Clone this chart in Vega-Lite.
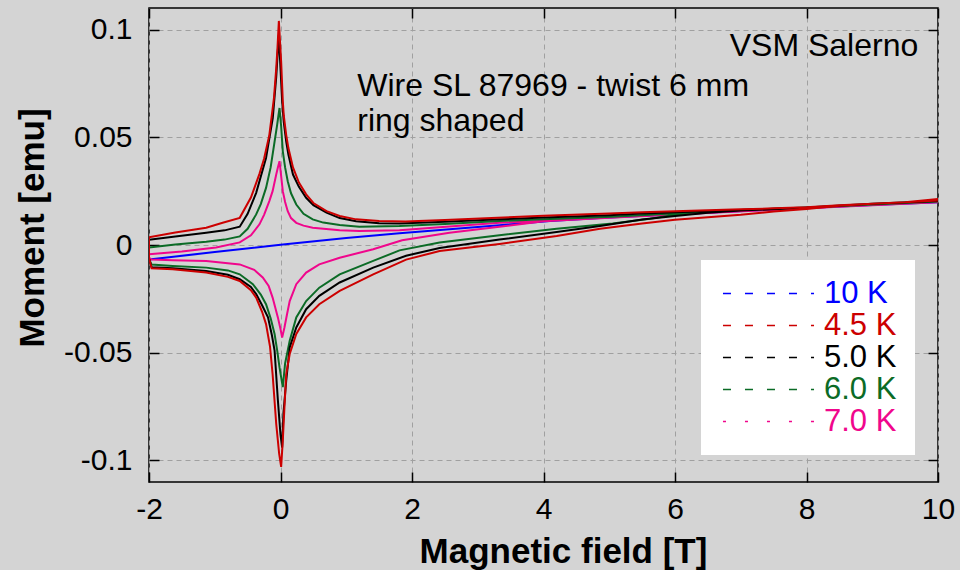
{
  "$schema": "https://vega.github.io/schema/vega-lite/v6.json",
  "width": 789,
  "height": 474,
  "autosize": "none",
  "padding": {"left": 149, "top": 8, "right": 22, "bottom": 88},
  "background": "#d4d4d4",
  "config": {
    "font": "Liberation Sans",
    "view": {"stroke": "#000000", "strokeWidth": 1.5},
    "axis": {
      "labelFont": "Liberation Sans",
      "labelFontSize": 30,
      "labelColor": "#000000",
      "labelFlush": false,
      "labelOverlap": false,
      "titleFont": "Liberation Sans",
      "titleFontSize": 35,
      "titleFontWeight": "bold",
      "titleColor": "#000000",
      "domain": false,
      "tickColor": "#000000",
      "tickWidth": 1.5,
      "tickSize": -10,
      "gridColor": "#a0a0a0",
      "gridDash": [5, 4],
      "gridWidth": 1
    }
  },
  "datasets": {
    "curves": [
      {"T":"10 K","i":0,"H":-2,"m":-0.0067},
      {"T":"10 K","i":1,"H":-1,"m":-0.0033},
      {"T":"10 K","i":2,"H":0,"m":0.0001},
      {"T":"10 K","i":3,"H":1,"m":0.0032},
      {"T":"10 K","i":4,"H":1.81,"m":0.0054},
      {"T":"10 K","i":5,"H":2.57,"m":0.0073},
      {"T":"10 K","i":6,"H":3.33,"m":0.0092},
      {"T":"10 K","i":7,"H":4.1,"m":0.0111},
      {"T":"10 K","i":8,"H":4.86,"m":0.0125},
      {"T":"10 K","i":9,"H":6,"m":0.0143},
      {"T":"10 K","i":10,"H":7.5,"m":0.0165},
      {"T":"10 K","i":11,"H":9,"m":0.0186},
      {"T":"10 K","i":12,"H":10,"m":0.0198},

      {"T":"7.0 K","i":0,"H":10,"m":0.0199},
      {"T":"7.0 K","i":1,"H":8,"m":0.0170},
      {"T":"7.0 K","i":2,"H":6,"m":0.0143},
      {"T":"7.0 K","i":3,"H":5,"m":0.0128},
      {"T":"7.0 K","i":4,"H":4,"m":0.0113},
      {"T":"7.0 K","i":5,"H":3.33,"m":0.0103},
      {"T":"7.0 K","i":6,"H":2.57,"m":0.0086},
      {"T":"7.0 K","i":7,"H":1.81,"m":0.0069},
      {"T":"7.0 K","i":8,"H":1.2,"m":0.0065},
      {"T":"7.0 K","i":9,"H":0.9,"m":0.0068},
      {"T":"7.0 K","i":10,"H":0.49,"m":0.0080},
      {"T":"7.0 K","i":11,"H":0.35,"m":0.0090},
      {"T":"7.0 K","i":12,"H":0.24,"m":0.0103},
      {"T":"7.0 K","i":13,"H":0.16,"m":0.0125},
      {"T":"7.0 K","i":14,"H":0.11,"m":0.0157},
      {"T":"7.0 K","i":15,"H":0.07,"m":0.0200},
      {"T":"7.0 K","i":16,"H":0.035,"m":0.0250},
      {"T":"7.0 K","i":17,"H":0.01,"m":0.0320},
      {"T":"7.0 K","i":18,"H":-0.015,"m":0.0389},
      {"T":"7.0 K","i":19,"H":-0.04,"m":0.0360},
      {"T":"7.0 K","i":20,"H":-0.065,"m":0.0327},
      {"T":"7.0 K","i":21,"H":-0.12,"m":0.0250},
      {"T":"7.0 K","i":22,"H":-0.17,"m":0.0204},
      {"T":"7.0 K","i":23,"H":-0.25,"m":0.0140},
      {"T":"7.0 K","i":24,"H":-0.32,"m":0.0096},
      {"T":"7.0 K","i":25,"H":-0.45,"m":0.0045},
      {"T":"7.0 K","i":26,"H":-0.62,"m":0.0012},
      {"T":"7.0 K","i":27,"H":-0.98,"m":-0.0012},
      {"T":"7.0 K","i":28,"H":-1.5,"m":-0.0030},
      {"T":"7.0 K","i":29,"H":-2,"m":-0.0043},
      {"T":"7.0 K","i":30,"H":-2,"m":-0.0058},
      {"T":"7.0 K","i":31,"H":-1.96,"m":-0.0067},
      {"T":"7.0 K","i":32,"H":-1.64,"m":-0.0071},
      {"T":"7.0 K","i":33,"H":-1.13,"m":-0.0074},
      {"T":"7.0 K","i":34,"H":-0.62,"m":-0.0090},
      {"T":"7.0 K","i":35,"H":-0.4,"m":-0.0115},
      {"T":"7.0 K","i":36,"H":-0.27,"m":-0.0151},
      {"T":"7.0 K","i":37,"H":-0.18,"m":-0.0190},
      {"T":"7.0 K","i":38,"H":-0.12,"m":-0.0244},
      {"T":"7.0 K","i":39,"H":-0.04,"m":-0.0336},
      {"T":"7.0 K","i":40,"H":0,"m":-0.0390},
      {"T":"7.0 K","i":41,"H":0.025,"m":-0.0430},
      {"T":"7.0 K","i":42,"H":0.06,"m":-0.0383},
      {"T":"7.0 K","i":43,"H":0.1,"m":-0.0320},
      {"T":"7.0 K","i":44,"H":0.14,"m":-0.0260},
      {"T":"7.0 K","i":45,"H":0.24,"m":-0.0182},
      {"T":"7.0 K","i":46,"H":0.39,"m":-0.0128},
      {"T":"7.0 K","i":47,"H":0.59,"m":-0.0090},
      {"T":"7.0 K","i":48,"H":0.9,"m":-0.0059},
      {"T":"7.0 K","i":49,"H":1.41,"m":-0.0020},
      {"T":"7.0 K","i":50,"H":1.85,"m":0.0022},
      {"T":"7.0 K","i":51,"H":2.57,"m":0.0057},
      {"T":"7.0 K","i":52,"H":3.33,"m":0.0085},
      {"T":"7.0 K","i":53,"H":4,"m":0.0110},
      {"T":"7.0 K","i":54,"H":5,"m":0.0127},
      {"T":"7.0 K","i":55,"H":6,"m":0.0142},
      {"T":"7.0 K","i":56,"H":8,"m":0.0170},
      {"T":"7.0 K","i":57,"H":10,"m":0.0198},

      {"T":"6.0 K","i":0,"H":10,"m":0.0202},
      {"T":"6.0 K","i":1,"H":9,"m":0.0188},
      {"T":"6.0 K","i":2,"H":8,"m":0.0173},
      {"T":"6.0 K","i":3,"H":7,"m":0.0163},
      {"T":"6.0 K","i":4,"H":6.3,"m":0.0153},
      {"T":"6.0 K","i":5,"H":5.62,"m":0.0140},
      {"T":"6.0 K","i":6,"H":5.05,"m":0.0131},
      {"T":"6.0 K","i":7,"H":4,"m":0.0120},
      {"T":"6.0 K","i":8,"H":3.33,"m":0.0111},
      {"T":"6.0 K","i":9,"H":2.5,"m":0.0098},
      {"T":"6.0 K","i":10,"H":1.81,"m":0.0088},
      {"T":"6.0 K","i":11,"H":1.2,"m":0.0085},
      {"T":"6.0 K","i":12,"H":0.9,"m":0.0093},
      {"T":"6.0 K","i":13,"H":0.65,"m":0.0104},
      {"T":"6.0 K","i":14,"H":0.49,"m":0.0119},
      {"T":"6.0 K","i":15,"H":0.35,"m":0.0145},
      {"T":"6.0 K","i":16,"H":0.24,"m":0.0188},
      {"T":"6.0 K","i":17,"H":0.16,"m":0.0240},
      {"T":"6.0 K","i":18,"H":0.11,"m":0.0296},
      {"T":"6.0 K","i":19,"H":0.07,"m":0.0360},
      {"T":"6.0 K","i":20,"H":0.035,"m":0.0435},
      {"T":"6.0 K","i":21,"H":0.01,"m":0.0550},
      {"T":"6.0 K","i":22,"H":-0.015,"m":0.0636},
      {"T":"6.0 K","i":23,"H":-0.05,"m":0.0560},
      {"T":"6.0 K","i":24,"H":-0.09,"m":0.0480},
      {"T":"6.0 K","i":25,"H":-0.15,"m":0.0360},
      {"T":"6.0 K","i":26,"H":-0.22,"m":0.0265},
      {"T":"6.0 K","i":27,"H":-0.3,"m":0.0190},
      {"T":"6.0 K","i":28,"H":-0.37,"m":0.0142},
      {"T":"6.0 K","i":29,"H":-0.5,"m":0.0075},
      {"T":"6.0 K","i":30,"H":-0.62,"m":0.0040},
      {"T":"6.0 K","i":31,"H":-0.85,"m":0.0025},
      {"T":"6.0 K","i":32,"H":-1.13,"m":0.0015},
      {"T":"6.0 K","i":33,"H":-1.6,"m":0.0002},
      {"T":"6.0 K","i":34,"H":-2,"m":-0.0012},
      {"T":"6.0 K","i":35,"H":-2,"m":-0.0065},
      {"T":"6.0 K","i":36,"H":-1.96,"m":-0.0091},
      {"T":"6.0 K","i":37,"H":-1.64,"m":-0.0097},
      {"T":"6.0 K","i":38,"H":-1.13,"m":-0.0105},
      {"T":"6.0 K","i":39,"H":-0.8,"m":-0.0118},
      {"T":"6.0 K","i":40,"H":-0.62,"m":-0.0136},
      {"T":"6.0 K","i":41,"H":-0.42,"m":-0.0182},
      {"T":"6.0 K","i":42,"H":-0.3,"m":-0.0230},
      {"T":"6.0 K","i":43,"H":-0.22,"m":-0.0275},
      {"T":"6.0 K","i":44,"H":-0.15,"m":-0.0340},
      {"T":"6.0 K","i":45,"H":-0.09,"m":-0.0413},
      {"T":"6.0 K","i":46,"H":-0.05,"m":-0.0490},
      {"T":"6.0 K","i":47,"H":-0.015,"m":-0.0568},
      {"T":"6.0 K","i":48,"H":0.035,"m":-0.0660},
      {"T":"6.0 K","i":49,"H":0.07,"m":-0.0550},
      {"T":"6.0 K","i":50,"H":0.14,"m":-0.0444},
      {"T":"6.0 K","i":51,"H":0.24,"m":-0.0336},
      {"T":"6.0 K","i":52,"H":0.39,"m":-0.0260},
      {"T":"6.0 K","i":53,"H":0.59,"m":-0.0198},
      {"T":"6.0 K","i":54,"H":0.9,"m":-0.0136},
      {"T":"6.0 K","i":55,"H":1.41,"m":-0.0074},
      {"T":"6.0 K","i":56,"H":1.81,"m":-0.0025},
      {"T":"6.0 K","i":57,"H":2.42,"m":0.0012},
      {"T":"6.0 K","i":58,"H":3.33,"m":0.0045},
      {"T":"6.0 K","i":59,"H":4.2,"m":0.0075},
      {"T":"6.0 K","i":60,"H":5.05,"m":0.0100},
      {"T":"6.0 K","i":61,"H":5.62,"m":0.0122},
      {"T":"6.0 K","i":62,"H":6,"m":0.0140},
      {"T":"6.0 K","i":63,"H":6.3,"m":0.0152},
      {"T":"6.0 K","i":64,"H":7,"m":0.0163},
      {"T":"6.0 K","i":65,"H":8,"m":0.0173},
      {"T":"6.0 K","i":66,"H":9,"m":0.0188},
      {"T":"6.0 K","i":67,"H":10,"m":0.0202},

      {"T":"5.0 K","i":0,"H":10,"m":0.0204},
      {"T":"5.0 K","i":1,"H":9,"m":0.0191},
      {"T":"5.0 K","i":2,"H":8,"m":0.0174},
      {"T":"5.0 K","i":3,"H":7.5,"m":0.0168},
      {"T":"5.0 K","i":4,"H":7,"m":0.0162},
      {"T":"5.0 K","i":5,"H":6,"m":0.0152},
      {"T":"5.0 K","i":6,"H":5.5,"m":0.0146},
      {"T":"5.0 K","i":7,"H":5,"m":0.0138},
      {"T":"5.0 K","i":8,"H":4,"m":0.0128},
      {"T":"5.0 K","i":9,"H":3.33,"m":0.0119},
      {"T":"5.0 K","i":10,"H":2.5,"m":0.0108},
      {"T":"5.0 K","i":11,"H":1.81,"m":0.0100},
      {"T":"5.0 K","i":12,"H":1.5,"m":0.0101},
      {"T":"5.0 K","i":13,"H":1.15,"m":0.0110},
      {"T":"5.0 K","i":14,"H":0.9,"m":0.0125},
      {"T":"5.0 K","i":15,"H":0.7,"m":0.0150},
      {"T":"5.0 K","i":16,"H":0.5,"m":0.0185},
      {"T":"5.0 K","i":17,"H":0.39,"m":0.0219},
      {"T":"5.0 K","i":18,"H":0.28,"m":0.0270},
      {"T":"5.0 K","i":19,"H":0.19,"m":0.0327},
      {"T":"5.0 K","i":20,"H":0.12,"m":0.0420},
      {"T":"5.0 K","i":21,"H":0.087,"m":0.0480},
      {"T":"5.0 K","i":22,"H":0.05,"m":0.0570},
      {"T":"5.0 K","i":23,"H":0.025,"m":0.0667},
      {"T":"5.0 K","i":24,"H":0,"m":0.0820},
      {"T":"5.0 K","i":25,"H":-0.025,"m":0.0975},
      {"T":"5.0 K","i":26,"H":-0.045,"m":0.0880},
      {"T":"5.0 K","i":27,"H":-0.065,"m":0.0780},
      {"T":"5.0 K","i":28,"H":-0.117,"m":0.0590},
      {"T":"5.0 K","i":29,"H":-0.22,"m":0.0404},
      {"T":"5.0 K","i":30,"H":-0.37,"m":0.0242},
      {"T":"5.0 K","i":31,"H":-0.5,"m":0.0145},
      {"T":"5.0 K","i":32,"H":-0.62,"m":0.0085},
      {"T":"5.0 K","i":33,"H":-0.85,"m":0.0068},
      {"T":"5.0 K","i":34,"H":-1.13,"m":0.0057},
      {"T":"5.0 K","i":35,"H":-1.6,"m":0.0040},
      {"T":"5.0 K","i":36,"H":-2,"m":0.0024},
      {"T":"5.0 K","i":37,"H":-2,"m":-0.0065},
      {"T":"5.0 K","i":38,"H":-1.96,"m":-0.0103},
      {"T":"5.0 K","i":39,"H":-1.64,"m":-0.0108},
      {"T":"5.0 K","i":40,"H":-1.13,"m":-0.0121},
      {"T":"5.0 K","i":41,"H":-0.8,"m":-0.0138},
      {"T":"5.0 K","i":42,"H":-0.62,"m":-0.0159},
      {"T":"5.0 K","i":43,"H":-0.45,"m":-0.0195},
      {"T":"5.0 K","i":44,"H":-0.37,"m":-0.0228},
      {"T":"5.0 K","i":45,"H":-0.28,"m":-0.0280},
      {"T":"5.0 K","i":46,"H":-0.19,"m":-0.0336},
      {"T":"5.0 K","i":47,"H":-0.13,"m":-0.0420},
      {"T":"5.0 K","i":48,"H":-0.09,"m":-0.0490},
      {"T":"5.0 K","i":49,"H":-0.04,"m":-0.0720},
      {"T":"5.0 K","i":50,"H":0,"m":-0.0880},
      {"T":"5.0 K","i":51,"H":0.025,"m":-0.0940},
      {"T":"5.0 K","i":52,"H":0.045,"m":-0.0780},
      {"T":"5.0 K","i":53,"H":0.087,"m":-0.0630},
      {"T":"5.0 K","i":54,"H":0.14,"m":-0.0475},
      {"T":"5.0 K","i":55,"H":0.24,"m":-0.0383},
      {"T":"5.0 K","i":56,"H":0.39,"m":-0.0298},
      {"T":"5.0 K","i":57,"H":0.59,"m":-0.0236},
      {"T":"5.0 K","i":58,"H":0.9,"m":-0.0174},
      {"T":"5.0 K","i":59,"H":1.41,"m":-0.0105},
      {"T":"5.0 K","i":60,"H":1.91,"m":-0.0050},
      {"T":"5.0 K","i":61,"H":2.42,"m":-0.0014},
      {"T":"5.0 K","i":62,"H":3.33,"m":0.0025},
      {"T":"5.0 K","i":63,"H":4.2,"m":0.0060},
      {"T":"5.0 K","i":64,"H":4.86,"m":0.0088},
      {"T":"5.0 K","i":65,"H":5.5,"m":0.0118},
      {"T":"5.0 K","i":66,"H":6,"m":0.0135},
      {"T":"5.0 K","i":67,"H":6.5,"m":0.0150},
      {"T":"5.0 K","i":68,"H":7,"m":0.0160},
      {"T":"5.0 K","i":69,"H":7.5,"m":0.0166},
      {"T":"5.0 K","i":70,"H":8,"m":0.0174},
      {"T":"5.0 K","i":71,"H":9,"m":0.0191},
      {"T":"5.0 K","i":72,"H":10,"m":0.0204},

      {"T":"4.5 K","i":0,"H":10,"m":0.0213},
      {"T":"4.5 K","i":1,"H":9.5,"m":0.0199},
      {"T":"4.5 K","i":2,"H":9,"m":0.0192},
      {"T":"4.5 K","i":3,"H":8.5,"m":0.0184},
      {"T":"4.5 K","i":4,"H":8,"m":0.0175},
      {"T":"4.5 K","i":5,"H":7.5,"m":0.0170},
      {"T":"4.5 K","i":6,"H":7,"m":0.0166},
      {"T":"4.5 K","i":7,"H":6,"m":0.0157},
      {"T":"4.5 K","i":8,"H":5.5,"m":0.0152},
      {"T":"4.5 K","i":9,"H":5,"m":0.0146},
      {"T":"4.5 K","i":10,"H":4,"m":0.0136},
      {"T":"4.5 K","i":11,"H":3.3,"m":0.0126},
      {"T":"4.5 K","i":12,"H":2.5,"m":0.0116},
      {"T":"4.5 K","i":13,"H":1.9,"m":0.0109},
      {"T":"4.5 K","i":14,"H":1.5,"m":0.0111},
      {"T":"4.5 K","i":15,"H":1.15,"m":0.0119},
      {"T":"4.5 K","i":16,"H":0.9,"m":0.0135},
      {"T":"4.5 K","i":17,"H":0.7,"m":0.0157},
      {"T":"4.5 K","i":18,"H":0.5,"m":0.0195},
      {"T":"4.5 K","i":19,"H":0.39,"m":0.0235},
      {"T":"4.5 K","i":20,"H":0.28,"m":0.0290},
      {"T":"4.5 K","i":21,"H":0.19,"m":0.0360},
      {"T":"4.5 K","i":22,"H":0.12,"m":0.0450},
      {"T":"4.5 K","i":23,"H":0.087,"m":0.0510},
      {"T":"4.5 K","i":24,"H":0.05,"m":0.0600},
      {"T":"4.5 K","i":25,"H":0.035,"m":0.0667},
      {"T":"4.5 K","i":26,"H":0.01,"m":0.0850},
      {"T":"4.5 K","i":27,"H":-0.025,"m":0.1040},
      {"T":"4.5 K","i":28,"H":-0.045,"m":0.0920},
      {"T":"4.5 K","i":29,"H":-0.065,"m":0.0820},
      {"T":"4.5 K","i":30,"H":-0.1,"m":0.0680},
      {"T":"4.5 K","i":31,"H":-0.17,"m":0.0510},
      {"T":"4.5 K","i":32,"H":-0.25,"m":0.0400},
      {"T":"4.5 K","i":33,"H":-0.32,"m":0.0330},
      {"T":"4.5 K","i":34,"H":-0.45,"m":0.0220},
      {"T":"4.5 K","i":35,"H":-0.62,"m":0.0126},
      {"T":"4.5 K","i":36,"H":-0.88,"m":0.0103},
      {"T":"4.5 K","i":37,"H":-1.13,"m":0.0080},
      {"T":"4.5 K","i":38,"H":-1.6,"m":0.0058},
      {"T":"4.5 K","i":39,"H":-2,"m":0.0036},
      {"T":"4.5 K","i":40,"H":-2,"m":-0.0060},
      {"T":"4.5 K","i":41,"H":-1.96,"m":-0.0108},
      {"T":"4.5 K","i":42,"H":-1.64,"m":-0.0113},
      {"T":"4.5 K","i":43,"H":-1.13,"m":-0.0128},
      {"T":"4.5 K","i":44,"H":-0.8,"m":-0.0148},
      {"T":"4.5 K","i":45,"H":-0.62,"m":-0.0167},
      {"T":"4.5 K","i":46,"H":-0.45,"m":-0.0210},
      {"T":"4.5 K","i":47,"H":-0.37,"m":-0.0244},
      {"T":"4.5 K","i":48,"H":-0.28,"m":-0.0310},
      {"T":"4.5 K","i":49,"H":-0.22,"m":-0.0367},
      {"T":"4.5 K","i":50,"H":-0.16,"m":-0.0470},
      {"T":"4.5 K","i":51,"H":-0.12,"m":-0.0600},
      {"T":"4.5 K","i":52,"H":-0.065,"m":-0.0830},
      {"T":"4.5 K","i":53,"H":-0.02,"m":-0.0970},
      {"T":"4.5 K","i":54,"H":0.01,"m":-0.1030},
      {"T":"4.5 K","i":55,"H":0.035,"m":-0.0907},
      {"T":"4.5 K","i":56,"H":0.06,"m":-0.0753},
      {"T":"4.5 K","i":57,"H":0.087,"m":-0.0599},
      {"T":"4.5 K","i":58,"H":0.14,"m":-0.0506},
      {"T":"4.5 K","i":59,"H":0.24,"m":-0.0413},
      {"T":"4.5 K","i":60,"H":0.39,"m":-0.0336},
      {"T":"4.5 K","i":61,"H":0.59,"m":-0.0275},
      {"T":"4.5 K","i":62,"H":0.9,"m":-0.0213},
      {"T":"4.5 K","i":63,"H":1.41,"m":-0.0136},
      {"T":"4.5 K","i":64,"H":1.91,"m":-0.0068},
      {"T":"4.5 K","i":65,"H":2.42,"m":-0.0028},
      {"T":"4.5 K","i":66,"H":3.33,"m":0.0005},
      {"T":"4.5 K","i":67,"H":4.2,"m":0.0042},
      {"T":"4.5 K","i":68,"H":4.86,"m":0.0075},
      {"T":"4.5 K","i":69,"H":5.5,"m":0.0100},
      {"T":"4.5 K","i":70,"H":6,"m":0.0117},
      {"T":"4.5 K","i":71,"H":7,"m":0.0140},
      {"T":"4.5 K","i":72,"H":7.5,"m":0.0155},
      {"T":"4.5 K","i":73,"H":8,"m":0.0167},
      {"T":"4.5 K","i":74,"H":8.5,"m":0.0182},
      {"T":"4.5 K","i":75,"H":9,"m":0.0191},
      {"T":"4.5 K","i":76,"H":9.5,"m":0.0198},
      {"T":"4.5 K","i":77,"H":10,"m":0.0206}
    ],
    "notesRight": [
      {"H": 9.7, "m": 0.0876, "label": "VSM Salerno"}
    ],
    "notesLeft": [
      {"H": 1.167, "m": 0.0692, "label": "Wire SL 87969 - twist 6 mm"},
      {"H": 1.167, "m": 0.0529, "label": "ring shaped"}
    ]
  },
  "layer": [
    {
      "data": {"name": "curves"},
      "mark": {"type": "line", "strokeWidth": 2, "clip": true},
      "encoding": {
        "x": {
          "field": "H", "type": "quantitative",
          "scale": {"domain": [-2, 10], "nice": false, "zero": false},
          "axis": {
            "orient": "bottom",
            "values": [-2, 0, 2, 4, 6, 8, 10],
            "labelExpr": "'' + datum.value",
            "labelPadding": 22,
            "title": "Magnetic field [T]",
            "titleX": 414,
            "titleY": 80,
            "titleAlign": "center",
            "titleBaseline": "alphabetic"
          }
        },
        "y": {
          "field": "m", "type": "quantitative",
          "scale": {"domain": [-0.11, 0.11], "nice": false, "zero": false},
          "axis": {
            "orient": "left",
            "values": [-0.1, -0.05, 0, 0.05, 0.1],
            "labelExpr": "'' + datum.value",
            "labelPadding": 27,
            "title": "Moment [emu]",
            "titleAngle": 270,
            "titleX": -106,
            "titleY": 219.5,
            "titleAlign": "center",
            "titleBaseline": "alphabetic"
          }
        },
        "color": {
          "field": "T", "type": "nominal",
          "scale": {
            "domain": ["10 K", "4.5 K", "5.0 K", "6.0 K", "7.0 K"],
            "range": ["#0000ff", "#cc0000", "#000000", "#0b6b26", "#f0068c"]
          },
          "legend": {
            "title": null,
            "orient": "none",
            "legendX": 552,
            "legendY": 252,
            "fillColor": "#ffffff",
            "padding": 18,
            "symbolType": "M-4,0H4",
            "symbolSize": 518,
            "symbolOffset": 34,
            "symbolStrokeWidth": 1.5,
            "symbolDash": [8, 14],
            "labelFont": "Liberation Sans",
            "labelFontSize": 31,
            "labelOffset": 40,
            "rowPadding": 0,
            "encode": {
              "labels": {"update": {"fill": {"scale": "color", "field": "value"}}},
              "symbols": {"update": {"strokeDash": {"signal": "datum.value === '7.0 K' ? [3, 19] : [8, 14]"}}}
            }
          }
        },
        "order": {"field": "i", "type": "quantitative"}
      }
    },
    {
      "data": {"name": "curves"},
      "mark": {"type": "point", "opacity": 0},
      "encoding": {
        "x": {
          "field": "H", "type": "quantitative",
          "axis": {"orient": "top", "values": [-2, 0, 2, 4, 6, 8, 10], "labels": false, "grid": false, "title": null}
        },
        "y": {
          "field": "m", "type": "quantitative",
          "axis": {"orient": "right", "values": [-0.1, -0.05, 0, 0.05, 0.1], "labels": false, "grid": false, "title": null}
        }
      }
    },
    {
      "data": {"name": "notesRight"},
      "mark": {"type": "text", "align": "right", "baseline": "alphabetic", "font": "Liberation Sans", "fontSize": 32, "color": "#000000"},
      "encoding": {
        "x": {"field": "H", "type": "quantitative", "axis": null},
        "y": {"field": "m", "type": "quantitative", "axis": null},
        "text": {"field": "label"}
      }
    },
    {
      "data": {"name": "notesLeft"},
      "mark": {"type": "text", "align": "left", "baseline": "alphabetic", "font": "Liberation Sans", "fontSize": 32, "color": "#000000"},
      "encoding": {
        "x": {"field": "H", "type": "quantitative", "axis": null},
        "y": {"field": "m", "type": "quantitative", "axis": null},
        "text": {"field": "label"}
      }
    }
  ],
  "resolve": {"axis": {"x": "independent", "y": "independent"}}
}
